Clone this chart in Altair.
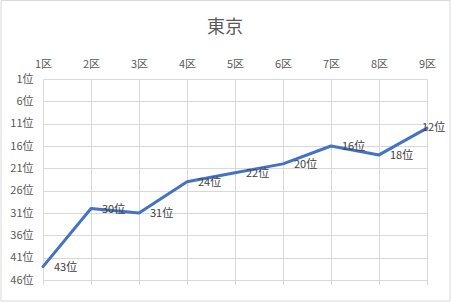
import altair as alt
import pandas as pd

categories = ["1区", "2区", "3区", "4区", "5区", "6区", "7区", "8区", "9区"]
ranks = [43, 30, 31, 24, 22, 20, 16, 18, 12]
y_ticks = [1, 6, 11, 16, 21, 26, 31, 36, 41, 46]

df = pd.DataFrame({"区": categories, "順位": ranks})
df["label"] = df["順位"].astype(str) + "位"
df["last"] = [i == len(categories) - 1 for i in range(len(categories))]

FONT = "Noto Sans CJK JP"

x_scale = alt.Scale(type="point", padding=0)
x_enc = alt.X("区:N", sort=categories, scale=x_scale,
              axis=alt.Axis(orient="top", title=None, labelAngle=0, domain=False,
                            ticks=False, labelPadding=10, labelFontSize=11,
                            labelColor="#595959", labelFont=FONT,
                            labelOverlap=False, labelBound=False,
                            grid=True, gridColor="#d9d9d9", gridWidth=1))
x_enc_bottom = alt.X("区:N", sort=categories, scale=x_scale,
                     axis=alt.Axis(orient="bottom", title=None, labels=False, domain=False,
                                   ticks=True, tickSize=4, tickColor="#d9d9d9", grid=False))
y_enc = alt.Y("順位:Q",
              scale=alt.Scale(domain=[1, 46], reverse=True, nice=False, zero=False),
              axis=alt.Axis(values=y_ticks, tickCount=10, labelExpr="datum.value + '位'", title=None,
                            domain=False, ticks=False, labelPadding=10, labelFontSize=11,
                            labelColor="#595959", labelFont=FONT,
                            labelOverlap=False, labelBound=False, labelFlush=False,
                            grid=True, gridColor="#d9d9d9", gridWidth=1))

base = alt.Chart(df)

line = base.mark_line(color="#4472C4", strokeWidth=3, strokeCap="round", strokeJoin="round").encode(
    x=x_enc, y=y_enc)

labels = base.transform_filter("!datum.last").mark_text(
    align="left", baseline="middle", dx=11, dy=1, fontSize=11, font=FONT, color="#404040"
).encode(x=x_enc_bottom, y=y_enc, text="label:N")

last_label = base.transform_filter("datum.last").mark_text(
    align="left", baseline="middle", dx=-5, dy=0, fontSize=11, font=FONT, color="#404040"
).encode(x=x_enc_bottom, y=y_enc, text="label:N")

border = alt.Chart(pd.DataFrame({"a": [0]})).mark_rect(
    fill=None, stroke="#d9d9d9", strokeWidth=1, clip=False
).encode(x=alt.value(-42), x2=alt.value(407), y=alt.value(-78.5), y2=alt.value(222))

chart = alt.layer(border, line, labels, last_label).resolve_axis(x="independent").properties(
    width=384, height=201,
    title=alt.TitleParams("東京", fontSize=18, font=FONT, fontWeight="normal",
                          color="#595959", anchor="middle", dx=-10, offset=-37),
    autosize="none",
    padding={"left": 43, "top": 79, "right": 24, "bottom": 23},
).configure_view(stroke=None)

chart.save("out.html", embed_options={"renderer": "svg", "actions": False})
